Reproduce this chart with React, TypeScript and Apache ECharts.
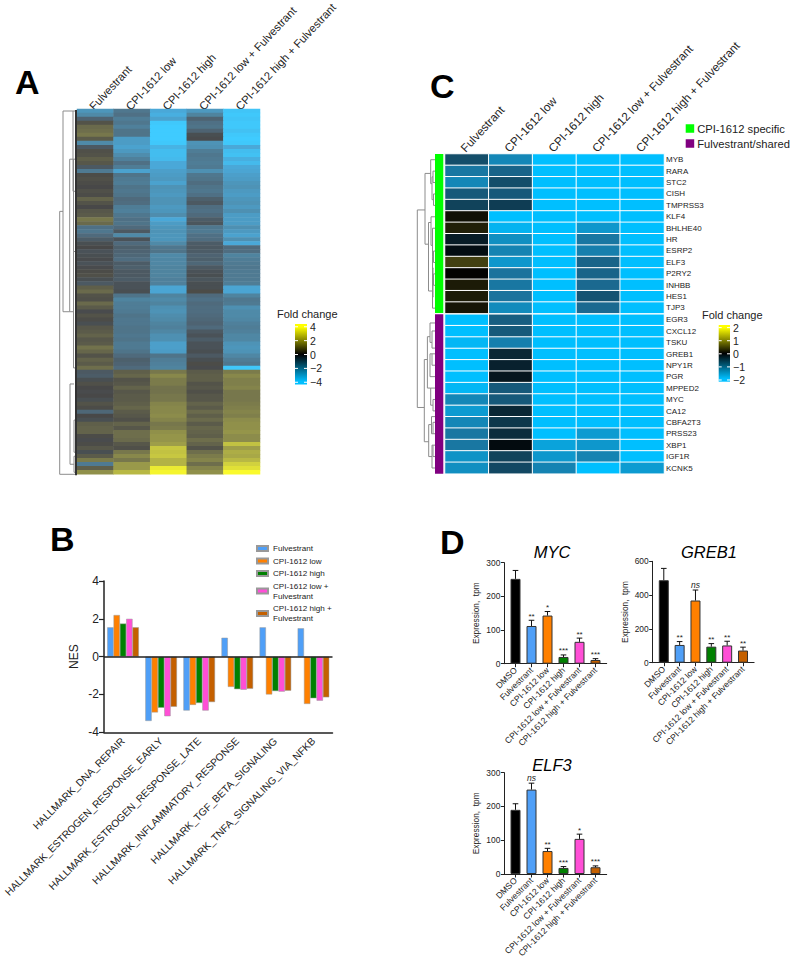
import React, { useEffect, useRef } from "react";
import * as echarts from "echarts";

const FONT = "Liberation Sans";
const TEXT = "#222222";

const treatments = ["Fulvestrant", "CPI-1612 low", "CPI-1612 high", "CPI-1612 low + Fulvestrant", "CPI-1612 high + Fulvestrant"];
const barCategories = ["DMSO", ...treatments];

// Panel A: fold change per gene row (top to bottom), one value per treatment
const heatARows = [
  [-2.4,-1.4,-3.0,-2.5,-3.8],[-2.0,-1.2,-3.2,-1.8,-3.9],[-0.8,-1.6,-2.8,-0.8,-3.8],[0.3,-1.4,-3.9,-1.2,-3.9],
  [0.9,-1.7,-4,-1.3,-3.9],[1.0,-1.3,-4,-0.8,-3.7],[1.2,-1.3,-4,-0.2,-3.9],[0.5,-2.6,-4,-0.1,-4],
  [-2.0,-2.6,-3.9,-2.3,-3.9],[-0.5,-2.8,-3.3,-2.2,-3.0],[0.2,-2.5,-3.6,-1.6,-3.6],[0.3,-2.1,-3.6,-1.4,-3.7],
  [0.6,-1.7,-3.5,-1.5,-3.2],[0.4,-1.2,-3.0,-1.6,-3.5],[-0.5,-1.6,-3.0,-1.5,-3.0],[-1.5,-2.8,-2.7,-2.2,-2.9],
  [0.1,-1.3,-2.6,-1.4,-2.7],[0.2,-1.5,-2.5,-1.3,-2.6],[0.1,-1.6,-2.8,-1.1,-2.4],[0.0,-1.3,-2.3,-1.3,-2.3],
  [0.2,-1.4,-2.4,-1.4,-2.5],[0.1,-1.3,-2.5,-1.2,-2.6],[0.7,-1.0,-2.3,-0.7,-2.4],[0.3,-1.1,-2.3,-0.5,-2.3],
  [0.0,-1.6,-2.5,-1.1,-2.5],[0.4,-1.7,-2.4,-1.2,-2.2],[0.5,-1.4,-2.1,-1.0,-2.6],[1.2,-1.2,-3.0,-0.6,-2.6],
  [0.9,-1.3,-2.6,-0.4,-2.6],[-1.2,-1.0,-2.4,-1.4,-2.2],[-1.4,-0.5,-2.3,-1.5,-2.5],[-1.0,-2.0,-2.4,-1.2,-2.8],
  [-0.6,-0.3,-2.4,-1.1,-2.2],[-0.2,-1.0,-2.0,-0.6,-3.0],[0.0,-0.7,-1.4,-0.5,-1.0],[-0.3,-0.8,-1.3,-0.6,-1.1],
  [-0.2,-0.9,-2.0,-0.8,-1.8],[-0.1,-1.1,-1.9,-0.7,-1.6],[-0.3,-0.6,-1.9,-0.9,-1.5],[-0.1,-0.7,-1.8,-0.5,-1.4],
  [0.1,-0.5,-1.8,-0.3,-1.5],[0.2,-0.5,-1.8,-0.2,-1.5],[-0.2,-0.6,-1.7,-0.4,-1.5],[-0.5,-0.3,-1.7,-0.2,-1.6],
  [0.6,-0.3,-2.9,-0.2,-2.9],[0.9,-0.2,-2.9,0.1,-2.9],[0.3,-1.3,-1.8,-1.0,-1.8],[0.2,-1.8,-2.0,-1.2,-1.4],
  [0.9,-1.6,-1.8,-1.0,-1.5],[0.5,-1.6,-2.2,-1.1,-2.2],[-0.1,-1.5,-2.3,-1.1,-2.0],[0.3,-1.3,-2.1,-1.0,-2.0],
  [0.1,-1.4,-2.0,-0.9,-1.9],[-0.2,-1.4,-1.8,-0.8,-1.7],[0.4,-1.3,-1.7,-1.0,-1.6],[0.5,-1.3,-1.9,-0.5,-1.7],
  [0.7,-1.4,-2.2,-0.3,-1.9],[0.4,-1.3,-2.2,-0.6,-1.9],[0.5,-1.5,-2.7,-0.3,-2.3],[1.1,-1.5,-2.7,-0.3,-2.4],
  [0.8,-1.3,-2.6,-0.2,-2.3],[0.3,-1.0,-1.3,-0.5,-1.9],[0.7,-0.7,-1.6,-0.2,-1.6],[0.5,-0.8,-1.7,0.1,-1.4],
  [1.0,-1.0,-1.8,-0.1,-3.9],[-0.5,0.6,1.2,0.5,1.3],[-0.6,0.8,1.6,0.6,1.6],[-0.2,0.3,1.3,0.6,1.4],
  [0.2,0.4,1.3,0.3,1.4],[0.0,0.7,1.1,0.4,1.5],[-0.1,0.4,1.1,0.2,1.2],[0.0,0.5,1.2,0.4,1.2],
  [-0.2,0.5,1.2,0.4,1.2],[0.3,0.6,1.5,0.7,1.3],[0.1,0.8,1.6,0.5,1.4],[-0.9,0.5,1.6,0.9,1.5],
  [0.0,0.4,1.7,0.6,1.4],[-0.2,0.2,1.5,0.9,1.7],[0.6,0.7,1.2,0.5,1.8],[0.7,0.4,1.3,0.8,1.8],
  [0.7,1.0,1.8,0.7,1.9],[0.1,1.0,1.9,0.6,1.7],[-0.1,0.9,1.9,1.0,1.7],[0.1,0.4,2.1,0.7,2.8],
  [0.4,0.2,2.9,0.3,2.1],[-0.2,1.2,2.8,1.0,2.4],[0.5,1.6,2.9,1.3,2.3],[1.3,1.2,2.5,1.5,2.6],
  [-1.5,2.0,2.5,1.0,3.1],[0.6,2.0,3.6,1.5,3.4],[1.8,2.6,3.8,1.8,3.9],
];
const rowsA = heatARows.map((_, i) => String(i));

// Panel C
const genesSpecific = ["MYB","RARA","STC2","CISH","TMPRSS3","KLF4","BHLHE40","HR","ESRP2","ELF3","P2RY2","INHBB","HES1","TJP3"];
const heatCSpecific = [
  [-0.7,-1.3,-2,-2,-2],[-1.1,-0.9,-2,-2,-2],[-1.3,-0.7,-2,-2,-2],[-0.8,-0.8,-2,-2,-2],[-0.6,-0.55,-2,-2,-2],
  [0.15,-2,-2,-2,-2],[0.3,-1.85,-2,-1.5,-2],[-0.25,-1.4,-2,-1.1,-2],[-0.12,-1.25,-2,-1.2,-2],[0.6,-1.5,-2,-0.9,-2],
  [0.02,-1.05,-2,-0.9,-2],[0.25,-1.1,-2,-0.95,-2],[0.25,-1.05,-2,-0.75,-2],[0.2,-1.35,-2,-0.95,-2],
];
const genesShared = ["EGR3","CXCL12","TSKU","GREB1","NPY1R","PGR","MPPED2","MYC","CA12","CBFA2T3","PRSS23","XBP1","IGF1R","KCNK5"];
const heatCShared = [
  [-2,-0.85,-2,-2,-2],[-2,-0.8,-2,-2,-2],[-1.9,-1.2,-2,-2,-2],[-2,-0.35,-2,-2,-2],[-2,-0.3,-2,-2,-2],
  [-2,-0.2,-2,-2,-2],[-1.9,-0.8,-2,-2,-2],[-1.3,-0.8,-2,-2,-2],[-1.55,-0.35,-2,-2,-2],[-1.3,-0.5,-2,-2,-2],
  [-1.1,-0.4,-2,-1.55,-2],[-1.1,-0.1,-1.65,-1.5,-2],[-1.45,-0.6,-1.5,-1.25,-2],[-1.4,-0.65,-1.25,-2,-1.55],
];

// Dendrograms: [height, rowA, rowB, childHeightA, childHeightB]
const treeA = [
  [17.3,25,90.5,14,2],[14,0,50,4,7.3],[7.3,12,50,3.5,3.5],[4,0,20,1,1],[3.5,12,35,1,1],[3.5,35,64,1,1],
  [7,68,88,3,3],[3,77,85,1,1],[3,86,90,1,1],[1,0,90.5,0,0],
];
const treeC = [
  [17.7,4.4,21.7,10,10.7],[10,1.2,7.4,4.3,6.5],[4.3,0,2.1,0,3],[3,1.5,3.5,2,1.5],[2,1,2,0,0],[1.5,3,4,0,0],
  [6.5,5.5,11.5,4,2.5],[4,5,7.5,0,2.5],[2.5,6,8.5,0,1.5],[1.5,8,9,0,0],[2.5,8.5,13,2,0],[2,9.5,12,1.5,1.5],[1.5,10,11,0,0],
  [10.7,17.5,24.7,7.6,6.3],[7.6,15.5,20,5,4.3],[5,14.3,16,0,3],[3,15,16.5,0,0],[5,17,19,3,0],[3,17,18,0,0],
  [4.3,20,21.5,0,2],[2,21,22,0,0],[6.3,23.2,26,3.5,3],[3.5,22.5,24,0,2],[2,23,24,0,0],[3,25,27,2,0],[2,25,26,0,0],
];

// Panel B: NES
const pathways = ["HALLMARK_DNA_REPAIR","HALLMARK_ESTROGEN_RESPONSE_EARLY","HALLMARK_ESTROGEN_RESPONSE_LATE","HALLMARK_INFLAMMATORY_RESPONSE","HALLMARK_TGF_BETA_SIGNALING","HALLMARK_TNFA_SIGNALING_VIA_NFKB"];
const nesFulvestrant = [1.55,-3.4,-2.85,1.0,1.55,1.5];
const nesLow = [2.2,-2.95,-2.55,-1.6,-2.0,-2.5];
const nesHigh = [1.75,-2.7,-2.45,-1.72,-1.82,-2.2];
const nesLowFulv = [2.0,-3.15,-2.85,-1.75,-1.85,-2.33];
const nesHighFulv = [1.55,-2.65,-2.4,-1.7,-1.8,-2.15];

// Panel D: mean, upper error, significance
const mycMean = [252,112,143,20,65,11];
const mycTop = [277,129,155,26,76,15];
const mycStars = ["","**","*","***","**","***"];
const greb1Mean = [488,105,368,95,102,72];
const greb1Top = [558,125,430,113,127,92];
const greb1Stars = ["","**","ns","**","**","**"];
const elf3Mean = [190,250,68,18,104,20];
const elf3Top = [208,269,76,22,118,24];
const elf3Stars = ["","ns","**","***","*","***"];

const barColors = ["#000000","#4f9ff7","#ff8000","#008000","#ff4fd6","#c46000"];
const barTicks = [0,1,2,3,4,5];
const legendATicks = [-4,-2,0,2,4];
const legendCTicks = [-2,-1,0,1,2];

const hidden = { show: false };

function heatSeries(rows: number[][], xAxisIndex: number, yAxisIndex: number, itemStyle: any) {
  const data: number[][] = [];
  rows.forEach((r, y) => r.forEach((v, x) => data.push([x, y, v])));
  return { type: "heatmap", xAxisIndex, yAxisIndex, data, itemStyle, emphasis: { disabled: true }, progressive: 0 };
}

function treeSeries(tree: number[][], axis: number) {
  return {
    type: "custom", xAxisIndex: axis, yAxisIndex: axis, data: tree, clip: false, silent: true,
    renderItem: (_: any, api: any) => {
      const h = api.value(0), a = api.value(1), b = api.value(2), ha = api.value(3), hb = api.value(4);
      return {
        type: "polyline",
        shape: { points: [api.coord([ha, a]), api.coord([h, a]), api.coord([h, b]), api.coord([hb, b])] },
        style: { stroke: h <= 1 ? "#333333" : "#8c8c8c", lineWidth: h <= 1 ? 2 : 1, fill: "none" },
      };
    },
  };
}

function colorbarSeries(axis: number, lo: number, hi: number, ticks: number[]) {
  const stops = [
    { offset: 0, color: "#ffff00" }, { offset: 0.05, color: "#ffff00" }, { offset: 0.5, color: "#000000" },
    { offset: 0.95, color: "#00bfff" }, { offset: 1, color: "#00bfff" },
  ];
  return {
    type: "custom", xAxisIndex: axis, yAxisIndex: axis, data: [[lo, hi]], silent: true, clip: false,
    renderItem: (_: any, api: any) => {
      const tl = api.coord([0, hi]), br = api.coord([1, lo]);
      const children: any[] = [{
        type: "rect", shape: { x: tl[0], y: tl[1], width: br[0] - tl[0], height: br[1] - tl[1] },
        style: { fill: new echarts.graphic.LinearGradient(0, 0, 0, 1, stops) },
      }];
      ticks.forEach((t) => {
        const y = api.coord([0, t])[1];
        children.push({ type: "line", shape: { x1: tl[0], y1: y, x2: tl[0] + 3, y2: y }, style: { stroke: "#ffffff", lineWidth: 1 } });
        children.push({ type: "line", shape: { x1: br[0] - 3, y1: y, x2: br[0], y2: y }, style: { stroke: "#ffffff", lineWidth: 1 } });
      });
      return { type: "group", children };
    },
  };
}

function expressionSeries(axis: number, mean: number[], top: number[], stars: string[]) {
  return [
    {
      type: "bar", xAxisIndex: axis, yAxisIndex: axis, barWidth: 10, silent: true,
      data: mean.map((v, i) => ({ value: [i, v], itemStyle: { color: barColors[i], borderColor: "#333333", borderWidth: 1 } })),
    },
    {
      type: "custom", xAxisIndex: axis, yAxisIndex: axis, silent: true, clip: false, z: 3,
      data: mean.map((v, i) => [i, v, top[i]]),
      renderItem: (params: any, api: any) => {
        const i = api.value(0);
        const base = api.coord([i, api.value(1)]);
        const tip = api.coord([i, api.value(2)]);
        const star = stars[params.dataIndex];
        const isNs = star === "ns";
        const children: any[] = [
          { type: "line", shape: { x1: base[0], y1: base[1], x2: tip[0], y2: tip[1] }, style: { stroke: "#111111", lineWidth: 1 } },
          { type: "line", shape: { x1: tip[0] - 2.8, y1: tip[1], x2: tip[0] + 2.8, y2: tip[1] }, style: { stroke: "#111111", lineWidth: 1 } },
        ];
        if (star) children.push({
          type: "text", x: tip[0], y: tip[1] - (isNs ? 1 : 0),
          style: { text: star, fontFamily: FONT, fontSize: isNs ? 8.5 : 8, fontStyle: isNs ? "italic" : "normal", fill: TEXT, align: "center", verticalAlign: "bottom" },
        });
        return { type: "group", children };
      },
    },
  ];
}

function topLabelAxis(gridIndex: number, data: string[], fontSize: number, margin: number) {
  return {
    type: "category", gridIndex, data, position: "top",
    axisLine: hidden, axisTick: hidden,
    axisLabel: { interval: 0, rotate: -47, margin, verticalAlign: "bottom", fontFamily: FONT, fontSize, color: TEXT },
  };
}

function expressionAxes(gridIndex: number, max: number, interval: number) {
  return {
    x: {
      type: "value", gridIndex, min: -0.7, max: 5.7, splitLine: hidden,
      axisLine: { onZero: false, lineStyle: { color: "#222222", width: 1 } },
      axisTick: { customValues: barTicks, length: 3.5, lineStyle: { color: "#222222" } },
      axisLabel: { customValues: barTicks, rotate: 45, margin: 5, fontFamily: FONT, fontSize: 8.6, color: TEXT, formatter: (v: number) => barCategories[Math.round(v)] },
    },
    y: {
      type: "value", gridIndex, min: 0, max, interval, splitLine: hidden,
      name: "Expression,  tpm", nameLocation: "middle", nameGap: 24, nameRotate: 90,
      nameTextStyle: { fontFamily: FONT, fontSize: 8.3, color: TEXT },
      axisLine: { show: true, onZero: false, lineStyle: { color: "#222222", width: 1 } },
      axisTick: { show: true, length: 3.5, lineStyle: { color: "#222222" } },
      axisLabel: { margin: 4, fontFamily: FONT, fontSize: 8.4, color: TEXT },
    },
  };
}

function nesBar(name: string, data: number[], color: string) {
  return {
    type: "bar", name, data, xAxisIndex: 9, yAxisIndex: 9, barGap: 0, barCategoryGap: "17%", silent: true,
    itemStyle: { color, borderColor: "#999999", borderWidth: 0.5 },
  };
}

function letter(text: string, left: number, top: number) {
  return { text, left, top, padding: 0, textStyle: { fontFamily: FONT, fontWeight: "bold", fontSize: 34, color: "#000000" } };
}
function geneTitle(text: string, left: number, top: number) {
  return { text, left, top, padding: 0, textAlign: "center", textStyle: { fontFamily: FONT, fontStyle: "italic", fontWeight: "normal", fontSize: 16.5, color: "#000000" } };
}
function foldTitle(left: number, top: number) {
  return { text: "Fold change", left, top, padding: 0, textStyle: { fontFamily: FONT, fontWeight: "normal", fontSize: 11, color: TEXT } };
}

function box(left: number, top: number, width: number, height: number) {
  return { left, top, width, height, outerBoundsMode: "none" };
}

function buildOption() {
  const dA = expressionAxes(10, 300, 100);
  const dB = expressionAxes(11, 600, 200);
  const dC = expressionAxes(12, 300, 100);
  const xAxis: any[] = [
    topLabelAxis(0, treatments, 11.3, -3),
    { type: "value", gridIndex: 1, min: 0, max: 17.5, inverse: true, show: false },
    { type: "value", gridIndex: 2, min: 0, max: 1, show: false },
    topLabelAxis(3, treatments, 11.7, 0),
    { type: "category", gridIndex: 4, data: treatments, show: false },
    { type: "category", gridIndex: 5, data: ["a"], show: false },
    { type: "category", gridIndex: 6, data: ["a"], show: false },
    { type: "value", gridIndex: 7, min: 0, max: 18, inverse: true, show: false },
    { type: "value", gridIndex: 8, min: 0, max: 1, show: false },
    {
      type: "category", gridIndex: 9, data: pathways,
      axisLine: { onZero: false, lineStyle: { color: "#222222", width: 1.5 } },
      axisTick: { alignWithLabel: true, length: 5, lineStyle: { color: "#222222", width: 1.2 } },
      axisLabel: { interval: 0, rotate: 45, margin: 7, fontFamily: FONT, fontSize: 10.2, color: TEXT },
    },
    dA.x, dB.x, dC.x,
  ];
  const barFill = { type: "value", min: 0, max: 1, show: false };
  const yAxis: any[] = [
    { type: "category", gridIndex: 0, data: rowsA, inverse: true, show: false },
    { type: "value", gridIndex: 1, min: -0.5, max: 90.5, inverse: true, show: false },
    {
      type: "value", gridIndex: 2, min: -4.32, max: 4.4, position: "right", splitLine: hidden,
      axisLine: hidden, axisTick: hidden,
      axisLabel: { customValues: legendATicks, margin: 3, fontFamily: FONT, fontSize: 10.5, color: TEXT, formatter: (v: number) => String(v).replace("-", "\u2212") },
    },
    {
      type: "category", gridIndex: 3, data: genesSpecific, inverse: true, position: "right",
      axisLine: hidden, axisTick: hidden,
      axisLabel: { interval: 0, margin: 2, fontFamily: FONT, fontSize: 8, color: TEXT },
    },
    {
      type: "category", gridIndex: 4, data: genesShared, inverse: true, position: "right",
      axisLine: hidden, axisTick: hidden,
      axisLabel: { interval: 0, margin: 2, fontFamily: FONT, fontSize: 8, color: TEXT },
    },
    { ...barFill, gridIndex: 5 },
    { ...barFill, gridIndex: 6 },
    { type: "value", gridIndex: 7, min: -0.5, max: 27.5, inverse: true, show: false },
    {
      type: "value", gridIndex: 8, min: -2.13, max: 2.2, position: "right", splitLine: hidden,
      axisLine: hidden, axisTick: hidden,
      axisLabel: { customValues: legendCTicks, margin: 3, fontFamily: FONT, fontSize: 10.5, color: TEXT, formatter: (v: number) => String(v).replace("-", "\u2212") },
    },
    {
      type: "value", gridIndex: 9, min: -4, max: 4, interval: 2, splitLine: hidden,
      name: "NES", nameLocation: "middle", nameGap: 24, nameRotate: 90,
      nameTextStyle: { fontFamily: FONT, fontSize: 12, color: TEXT },
      axisLine: { show: true, lineStyle: { color: "#222222", width: 1.5 } },
      axisTick: { show: true, length: 5, lineStyle: { color: "#222222", width: 1.2 } },
      axisLabel: { margin: 5, fontFamily: FONT, fontSize: 12, color: TEXT },
    },
    dA.y, dB.y, dC.y,
  ];
  const cellBorder = { borderColor: "#ffffff", borderWidth: 1 };
  const series: any[] = [
    heatSeries(heatARows, 0, 0, {}),
    heatSeries(heatCSpecific, 3, 3, cellBorder),
    heatSeries(heatCShared, 4, 4, cellBorder),
    treeSeries(treeA, 1),
    colorbarSeries(2, -4.32, 4.4, legendATicks),
    { type: "bar", name: "CPI-1612 specific", xAxisIndex: 5, yAxisIndex: 5, data: [1], barWidth: "100%", silent: true, itemStyle: { color: "#00ff00" } },
    { type: "bar", name: "Fulvestrant/shared", xAxisIndex: 6, yAxisIndex: 6, data: [1], barWidth: "100%", silent: true, itemStyle: { color: "#800080" } },
    treeSeries(treeC, 7),
    colorbarSeries(8, -2.13, 2.2, legendCTicks),
    {
      ...nesBar(treatments[0], nesFulvestrant, barColors[1]),
      markLine: { silent: true, symbol: "none", label: hidden, data: [{ yAxis: 0 }], lineStyle: { color: "#222222", width: 1.5, type: "solid" } },
    },
    nesBar(treatments[1], nesLow, barColors[2]),
    nesBar(treatments[2], nesHigh, barColors[3]),
    nesBar(treatments[3], nesLowFulv, barColors[4]),
    nesBar(treatments[4], nesHighFulv, barColors[5]),
    ...expressionSeries(10, mycMean, mycTop, mycStars),
    ...expressionSeries(11, greb1Mean, greb1Top, greb1Stars),
    ...expressionSeries(12, elf3Mean, elf3Top, elf3Stars),
  ];
  return {
    animation: false,
    backgroundColor: "#ffffff",
    textStyle: { fontFamily: FONT },
    title: [
      letter("A", 15, 65), letter("B", 50, 522), letter("C", 430, 69), letter("D", 440, 525),
      geneTitle("MYC", 552, 543), geneTitle("GREB1", 709, 543), geneTitle("ELF3", 552, 756),
      foldTitle(277, 308), foldTitle(702, 309),
    ],
    grid: [
      box(77, 109, 183, 365.3),
      box(59.5, 109, 17.5, 365.3),
      box(295, 324, 12, 60.5),
      box(445, 154, 219, 159.5),
      box(445, 314.3, 219, 159.4),
      box(435, 154, 8.3, 159),
      box(435, 314.3, 8.3, 159.4),
      box(417, 154, 18, 319.7),
      box(718.7, 325, 11.3, 56.7),
      box(104, 581, 228.5, 151.3),
      box(504.3, 562.7, 102.4, 101),
      box(652.7, 561.3, 101.4, 101.4),
      box(504.3, 772.7, 102.4, 101.3),
    ],
    xAxis, yAxis,
    visualMap: [
      { show: false, type: "continuous", seriesIndex: [0], dimension: 2, min: -4, max: 4, inRange: { color: ["#3fcbff", "#4aa8d8", "#4f8aa8", "#4f6a7c", "#484848", "#6e6e4c", "#99994a", "#cccc40", "#ffff2a"] } },
      { show: false, type: "continuous", seriesIndex: [1, 2], dimension: 2, min: -2, max: 2, inRange: { color: ["#00bfff", "#1c6f98", "#000000", "#6e6a1c", "#ffff00"] } },
    ],
    legend: [
      {
        data: treatments, orient: "vertical", left: 256, top: 543.5, padding: 0, itemWidth: 11, itemHeight: 5, itemGap: 2.5,
        icon: "rect", selectedMode: false,
        textStyle: { fontFamily: FONT, fontSize: 8.1, color: TEXT, lineHeight: 10 },
        formatter: (n: string) => n.replace(" + ", " +\n"),
      },
      {
        data: ["CPI-1612 specific", "Fulvestrant/shared"], orient: "vertical", left: 685.7, top: 123, padding: 0, itemWidth: 8.5, itemHeight: 8.5, itemGap: 4,
        icon: "rect", selectedMode: false,
        textStyle: { fontFamily: FONT, fontSize: 11.2, color: TEXT, padding: [0, 0, 0, -2] },
      },
    ],
    series,
  };
}

export default function App() {
  const ref = useRef<HTMLDivElement>(null);
  useEffect(() => {
    document.body.style.margin = "0";
    const chart = echarts.init(ref.current!, null, { renderer: "svg" });
    chart.setOption(buildOption() as any);
    return () => chart.dispose();
  }, []);
  return <div ref={ref} style={{ position: "absolute", left: 0, top: 0, width: 790, height: 959 }} />;
}
